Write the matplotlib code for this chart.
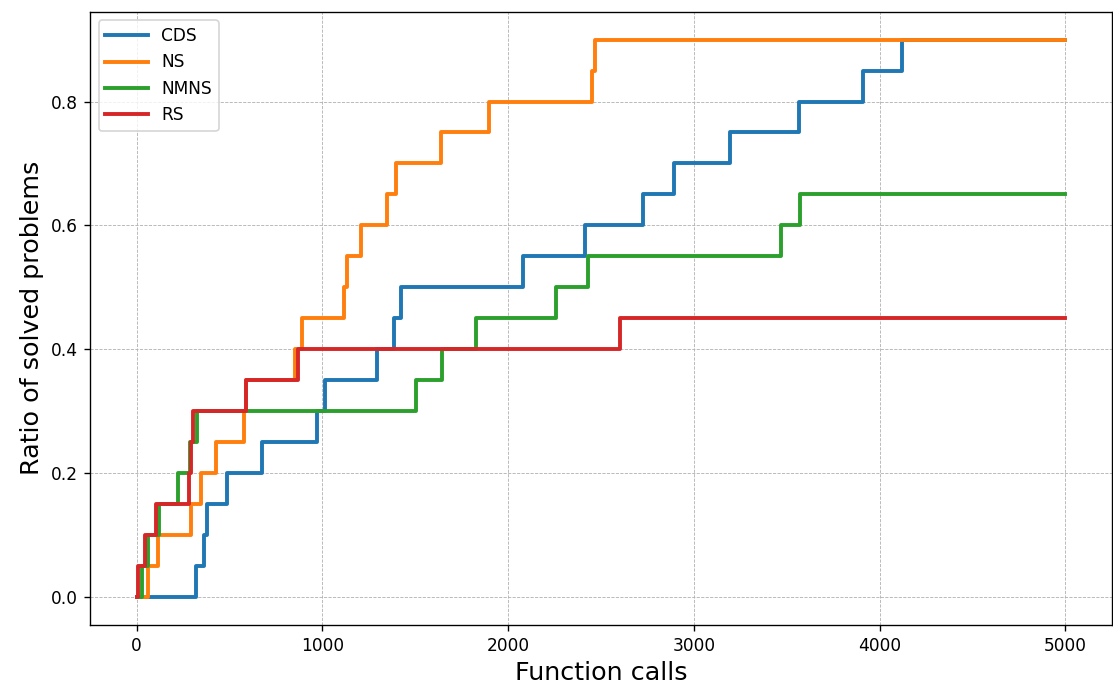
import matplotlib
matplotlib.use("Agg")
import matplotlib.pyplot as plt
import numpy as np

# function calls at which each problem got solved (each one adds 1/20)
n_problems = 20
max_calls = 5000

cds_calls = [322, 364, 380, 488, 675, 970, 1013, 1292, 1388, 1425,
             2079, 2412, 2728, 2894, 3194, 3564, 3912, 4121]
ns_calls = [64, 113, 295, 348, 429, 579, 590, 852, 890, 1115, 1131,
            1206, 1350, 1399, 1640, 1897, 2454, 2470]
nmns_calls = [27, 59, 118, 225, 289, 327, 1506, 1645, 1827, 2256,
              2428, 3467, 3569]
rs_calls = [10, 45, 107, 284, 295, 305, 590, 868, 2600]

labels = ["CDS", "NS", "NMNS", "RS"]
all_calls = [cds_calls, ns_calls, nmns_calls, rs_calls]


def profile(calls):
    x = [0] + list(calls) + [max_calls]
    y = [0] + [(i + 1) / n_problems for i in range(len(calls))]
    y = y + [y[-1]]
    return x, y


dpi = 122
fig, ax = plt.subplots(figsize=(1113 / dpi, 691 / dpi), dpi=dpi)
fig.subplots_adjust(left=0.081, right=0.999, bottom=0.096, top=0.983)

for lab, calls in zip(labels, all_calls):
    x, y = profile(calls)
    ax.plot(x, y, drawstyle="steps-post", linewidth=2.3, label=lab)

ax.set_xlabel("Function calls", fontsize=15)
ax.set_ylabel("Ratio of solved problems", fontsize=15)
ax.grid(True, linestyle="--", linewidth=0.5, color="#b0b0b0")
ax.legend(loc="upper left", handlelength=2.5)

plt.savefig("out.png", dpi=dpi)
